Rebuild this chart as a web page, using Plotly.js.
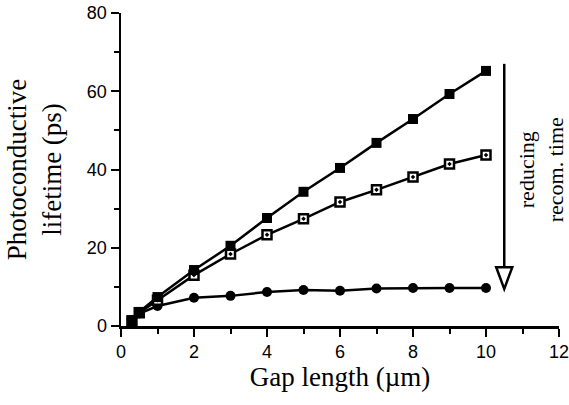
<!DOCTYPE html>
<html><head><meta charset="utf-8">
<script src="https://cdn.plot.ly/plotly-3.0.1.min.js"></script>
<style>body{margin:0;background:#fff}#c{width:569px;height:405px}</style>
</head><body><div id="c"></div>
<script>
const gap = [0.3, 0.5, 1, 2, 3, 4, 5, 6, 7, 8, 9, 10];
const lifetimeFilledSq = [1.5, 3.6, 7.4, 14.3, 20.5, 27.6, 34.3, 40.4, 46.8, 52.9, 59.3, 65.2];
const lifetimeOpenSq = [1.3, 3.4, 6.6, 13.0, 18.4, 23.3, 27.4, 31.7, 34.8, 38.1, 41.4, 43.7];
const lifetimeCircle = [1.2, 3.2, 5.1, 7.2, 7.7, 8.7, 9.2, 9.0, 9.6, 9.7, 9.7, 9.7];
const arrowX = 10.5, arrowTop = 67, arrowBottom = 9.5;

const serif = "Liberation Serif, Times New Roman, serif";
const sans = "Liberation Sans, Arial, sans-serif";

const traces = [
  {x: gap, y: lifetimeCircle, mode: 'lines+markers', line: {color: '#000', width: 2.5},
   marker: {symbol: 'circle', size: 10, color: '#000'}},
  {x: gap, y: lifetimeOpenSq, mode: 'lines+markers', line: {color: '#000', width: 2.5},
   marker: {symbol: 'square-dot', size: 9, color: '#fff', line: {color: '#000', width: 2.5}}},
  {x: gap, y: lifetimeFilledSq, mode: 'lines+markers', line: {color: '#000', width: 2.5},
   marker: {symbol: 'square', size: 10, color: '#000'}}
];

const layout = {
  width: 569, height: 405,
  margin: {l: 121, r: 10, t: 13, b: 79},
  paper_bgcolor: '#fff', plot_bgcolor: '#fff',
  showlegend: false,
  xaxis: {
    range: [0, 12], dtick: 2, tick0: 0, showgrid: false, zeroline: false,
    showline: true, linecolor: '#000', linewidth: 2.5,
    ticks: 'outside', ticklen: 8, tickwidth: 2, tickcolor: '#000',
    minor: {dtick: 1, ticks: 'outside', ticklen: 5, tickwidth: 2, tickcolor: '#000', showgrid: false},
    tickfont: {family: sans, size: 18, color: '#000'},
    ticklabeloverflow: 'allow',
    title: {text: 'Gap length (µm)', font: {family: serif, size: 27, color: '#000'}, standoff: 6}
  },
  yaxis: {
    range: [0, 80], dtick: 20, tick0: 0, showgrid: false, zeroline: false,
    showline: true, linecolor: '#000', linewidth: 2.5,
    ticks: 'outside', ticklen: 8, tickwidth: 2, tickcolor: '#000',
    minor: {dtick: 10, ticks: 'outside', ticklen: 5, tickwidth: 2, tickcolor: '#000', showgrid: false},
    tickfont: {family: sans, size: 18, color: '#000'},
    title: {text: 'Photoconductive<br>lifetime (ps)', font: {family: serif, size: 27, color: '#000'}, standoff: 18}
  },
  shapes: [
    {type: 'line', xref: 'x', yref: 'y', x0: arrowX, x1: arrowX, y0: arrowTop, y1: arrowBottom + 1,
     line: {color: '#000', width: 2.5}},
    {type: 'path', xref: 'x', yref: 'y',
     path: `M ${arrowX - 0.22} ${arrowBottom + 5.5} L ${arrowX} ${arrowBottom} L ${arrowX + 0.22} ${arrowBottom + 5.5} Z`,
     fillcolor: '#fff', line: {color: '#000', width: 2.5}}
  ],
  annotations: [
    {xref: 'x', yref: 'y', x: 11.5, y: 40, text: 'reducing<br>recom. time', showarrow: false,
     textangle: -90, font: {family: serif, size: 22, color: '#000'}, align: 'center'}
  ]
};
Plotly.newPlot('c', traces, layout, {displayModeBar: false, staticPlot: true});
</script></body></html>
